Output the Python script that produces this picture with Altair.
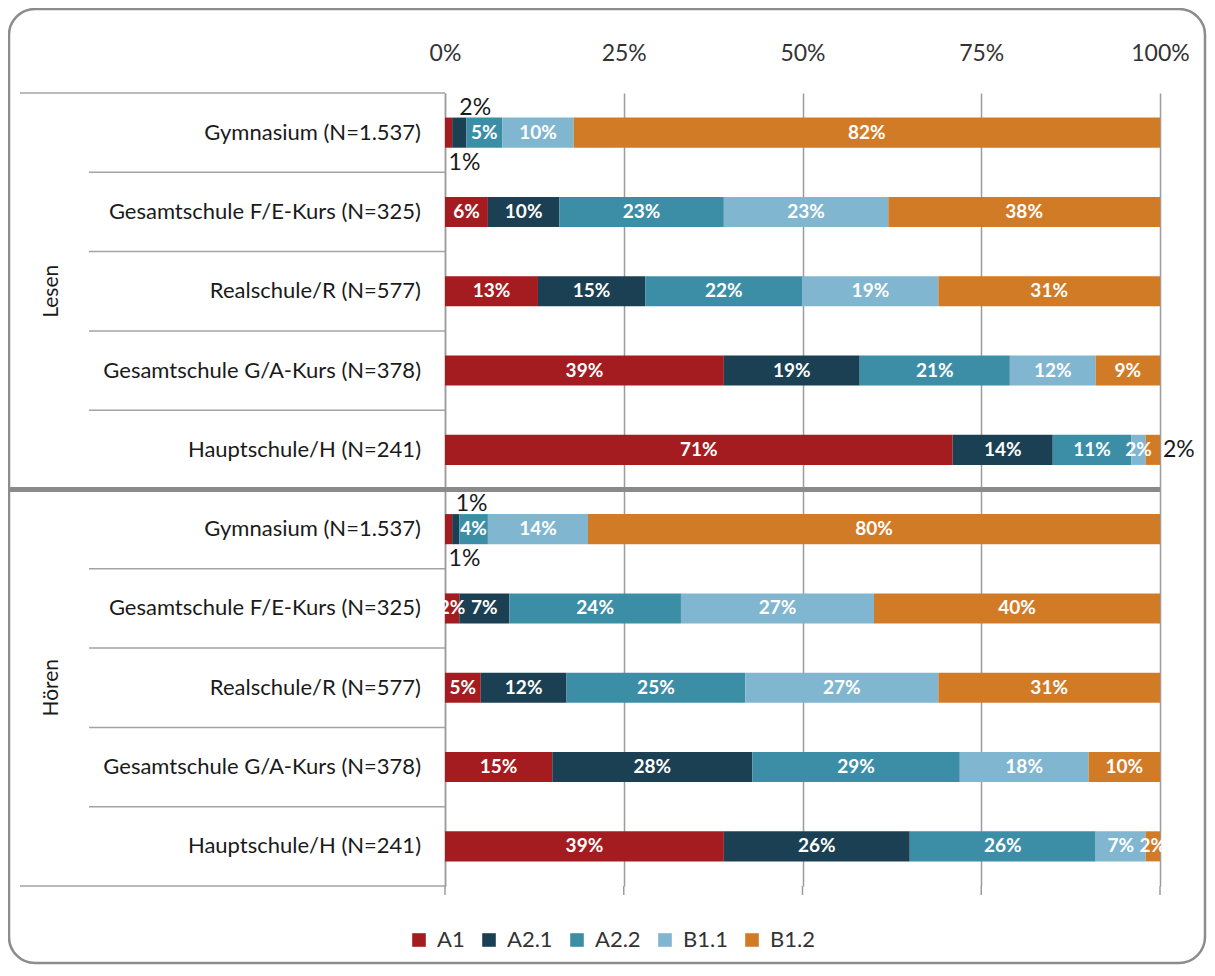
import altair as alt
import pandas as pd

levels = ["A1", "A2.1", "A2.2", "B1.1", "B1.2"]
colors = ["#A51C20", "#1B4053", "#3C8EA7", "#80B6CF", "#D27B27"]
schools = [
    "Gymnasium (N=1.537)",
    "Gesamtschule F/E-Kurs (N=325)",
    "Realschule/R (N=577)",
    "Gesamtschule G/A-Kurs (N=378)",
    "Hauptschule/H (N=241)",
]
skills = ["Lesen", "Hören"]
ticks = [0, 25, 50, 75, 100]

lesen_a1 = [1, 6, 13, 39, 71]
lesen_a21 = [2, 10, 15, 19, 14]
lesen_a22 = [5, 23, 22, 21, 11]
lesen_b11 = [10, 23, 19, 12, 2]
lesen_b12 = [82, 38, 31, 9, 2]

hoeren_a1 = [1, 2, 5, 15, 39]
hoeren_a21 = [1, 7, 12, 28, 26]
hoeren_a22 = [4, 24, 25, 29, 26]
hoeren_b11 = [14, 27, 27, 18, 7]
hoeren_b12 = [80, 40, 31, 10, 2]

# labels of tiny segments placed outside the bar
outside = {
    ("Lesen", 0, "A1"): "below",
    ("Lesen", 0, "A2.1"): "above",
    ("Lesen", 4, "B1.2"): "right",
    ("Hören", 0, "A1"): "below",
    ("Hören", 0, "A2.1"): "above",
}

series = {
    "Lesen": [lesen_a1, lesen_a21, lesen_a22, lesen_b11, lesen_b12],
    "Hören": [hoeren_a1, hoeren_a21, hoeren_a22, hoeren_b11, hoeren_b12],
}

rows = []
for si, skill in enumerate(skills):
    for ri, school in enumerate(schools):
        r = si * 5 + ri
        cum = 0
        for li, lev in enumerate(levels):
            v = series[skill][li][ri]
            rows.append(dict(skill=skill, school=school, level=lev, value=v,
                             start=cum, end=cum + v, mid=cum + v / 2,
                             ytop=r + 0.31, ybot=r + 0.69, ymid=r + 0.5,
                             label=f"{v}%",
                             place=outside.get((skill, ri, lev), "inside")))
            cum += v
df = pd.DataFrame(rows)

df_s = pd.DataFrame([dict(school=s, ymid=si * 5 + ri + 0.5)
                     for si in range(2) for ri, s in enumerate(schools)])
df_g = pd.DataFrame([dict(skill=s, ymid=si * 5 + 2.5) for si, s in enumerate(skills)])
df_b = pd.DataFrame([dict(b=b, kind=("outer" if b in (0, 10) else "mid" if b == 5 else "inner"))
                     for b in range(11)])
df_t = pd.DataFrame({"t": ticks})

FONT = "Lato"
GRID = "#9c9c9c"
xs = alt.Scale(domain=[0, 100], nice=False)
ys = alt.Scale(domain=[0, 10], reverse=True, nice=False, zero=False)
x_axis = alt.Axis(orient="top", values=ticks,
                  labelExpr="datum.value + '%'", ticks=False, domain=False,
                  grid=True, gridColor=GRID, gridWidth=1.5, labelFlush=False,
                  labelFont=FONT, labelFontSize=23, labelColor="#333333",
                  labelPadding=28, title=None)
y_axis = alt.Axis(labels=False, ticks=False, grid=False, domain=True,
                  domainColor=GRID, domainWidth=1.5, title=None)


def X(field):
    return alt.X(field, scale=xs, axis=x_axis, title=None)


def Y(field):
    return alt.Y(field, scale=ys, axis=y_axis, title=None)


border = alt.Chart(pd.DataFrame({"k": [0]})).mark_rect(
    fill="transparent", stroke="#8c8c8c", strokeWidth=2.5, cornerRadius=26
).encode(x=alt.value(-436), x2=alt.value(760), y=alt.value(-84), y2=alt.value(870))

rule_inner = alt.Chart(df_b).transform_filter("datum.kind == 'inner'").mark_rule(
    color="#a3a3a3", strokeWidth=1.5
).encode(x=alt.value(-356), x2=alt.value(0), y=Y("b:Q"))

rule_outer = alt.Chart(df_b).transform_filter("datum.kind == 'outer'").mark_rule(
    color="#a3a3a3", strokeWidth=1.5
).encode(x=alt.value(-425), x2=alt.value(0), y=Y("b:Q"))

rule_mid = alt.Chart(df_b).transform_filter("datum.kind == 'mid'").mark_rule(
    color="#8a8a8a", strokeWidth=5
).encode(x=alt.value(-435), x2=alt.value(715), y=Y("b:Q"))

tick_ext = alt.Chart(df_t).mark_rule(color=GRID, strokeWidth=1.5).encode(
    x=X("t:Q"), y=alt.value(793), y2=alt.value(802)
)

bars = alt.Chart(df).mark_rect().encode(
    x=X("start:Q"),
    x2="end:Q",
    y=Y("ytop:Q"),
    y2="ybot:Q",
    color=alt.Color("level:N", scale=alt.Scale(domain=levels, range=colors), title=None,
                    legend=alt.Legend(orient="none", legendX=-37, legendY=836,
                                      direction="horizontal", symbolType="square",
                                      symbolSize=185, symbolStrokeWidth=0,
                                      labelFont=FONT, labelFontSize=22, labelOffset=7,
                                      labelColor="#333333", columnPadding=13)),
)

lab_in = alt.Chart(df).transform_filter("datum.place == 'inside'").mark_text(
    font=FONT, fontSize=19, fontWeight="bold", color="white", align="center", baseline="middle"
).encode(x=X("mid:Q"), y=Y("ymid:Q"), text="label:N")

lab_above = alt.Chart(df).transform_filter("datum.place == 'above'").mark_text(
    font=FONT, fontSize=23, color="#1a1a1a", align="left", baseline="middle", dy=-25
).encode(x=X("mid:Q"), y=Y("ymid:Q"), text="label:N")

lab_below = alt.Chart(df).transform_filter("datum.place == 'below'").mark_text(
    font=FONT, fontSize=23, color="#1a1a1a", align="left", baseline="middle", dy=30
).encode(x=X("mid:Q"), y=Y("ymid:Q"), text="label:N")

lab_right = alt.Chart(df).transform_filter("datum.place == 'right'").mark_text(
    font=FONT, fontSize=23, color="#1a1a1a", align="left", baseline="middle", dx=3
).encode(x=X("end:Q"), y=Y("ymid:Q"), text="label:N")

school_txt = alt.Chart(df_s).mark_text(
    font=FONT, fontSize=22, color="#1a1a1a", align="right", baseline="middle"
).encode(x=alt.value(-24), y=Y("ymid:Q"), text="school:N")

group_txt = alt.Chart(df_g).mark_text(
    font=FONT, fontSize=21, color="#1a1a1a", align="center", baseline="middle", angle=270
).encode(x=alt.value(-393), y=Y("ymid:Q"), text="skill:N")

chart = alt.layer(
    border, rule_inner, rule_outer, tick_ext, bars, rule_mid,
    lab_in, lab_above, lab_below, lab_right, school_txt, group_txt
).properties(
    width=715, height=793,
    autosize=alt.AutoSizeParams(type="none"),
    padding={"left": 437, "top": 85, "right": 47, "bottom": 80},
).configure_view(strokeWidth=0)

chart.save("out.html", embed_options={"renderer": "svg", "actions": False})
